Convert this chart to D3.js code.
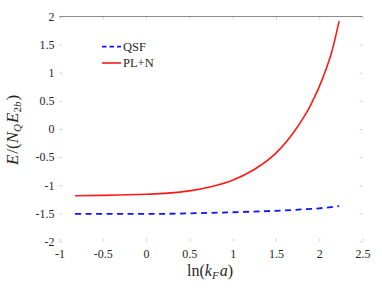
<!DOCTYPE html>
<html>
<head>
<meta charset="utf-8">
<script src="https://cdn.jsdelivr.net/npm/d3@7"></script>
<style>
  body { margin: 0; background: #fff; }
  text { font-family: "Liberation Serif", "Times New Roman", serif; fill: #262626; }
</style>
</head>
<body>
<script>
// values
const lnkFa = [-0.82, -0.5, 0, 0.25, 0.5, 0.75, 1.0, 1.25, 1.5, 1.75, 1.9, 2.05, 2.15, 2.23];
const plN   = [-1.186, -1.18, -1.16, -1.14, -1.10, -1.025, -0.91, -0.72, -0.43, 0.04, 0.42, 0.94, 1.40, 1.92];
const qsfX  = [-0.82, 0, 0.5, 1.0, 1.4, 1.8, 2.0, 2.23];
const qsf   = [-1.51, -1.51, -1.50, -1.48, -1.46, -1.43, -1.41, -1.37];
const xTicks = [-1, -0.5, 0, 0.5, 1, 1.5, 2, 2.5];
const yTicks = [-2, -1.5, -1, -0.5, 0, 0.5, 1, 1.5, 2];

const W = 382, H = 289;
const mLeft = 59.5, mRight = 362.5, mTop = 16.5, mBottom = 241.5;

const svg = d3.select("body").append("svg")
    .attr("width", W)
    .attr("height", H);

const x = d3.scaleLinear().domain([-1, 2.5]).range([mLeft, mRight]);
const y = d3.scaleLinear().domain([-2, 2]).range([mBottom, mTop]);

// axes, matlab style: ticks inside
const fmt = d => String(d);

const gx = svg.append("g").attr("transform", `translate(0,${mBottom})`)
    .call(d3.axisBottom(x).tickValues(xTicks).tickSize(-3).tickPadding(8).tickFormat(fmt));
const gy = svg.append("g").attr("transform", `translate(${mLeft},0)`)
    .call(d3.axisLeft(y).tickValues(yTicks).tickSize(-3).tickPadding(5).tickFormat(fmt));
const gxt = svg.append("g").attr("transform", `translate(0,${mTop})`)
    .call(d3.axisTop(x).tickValues(xTicks).tickSize(-3).tickFormat(""));
const gyr = svg.append("g").attr("transform", `translate(${mRight},0)`)
    .call(d3.axisRight(y).tickValues(yTicks).tickSize(-3).tickFormat(""));

[gx, gy, gxt, gyr].forEach(g => {
    g.attr("font-family", null);
    g.select(".domain").remove();
    g.selectAll(".tick line").attr("stroke", "#c8c8c8").attr("stroke-width", 0.8);
    g.selectAll("text")
        .style("font-family", "'Liberation Serif', serif")
        .attr("font-size", 12).attr("fill", "#262626");
});

// the top border is the only one that survives in the picture
svg.append("line")
    .attr("x1", mLeft).attr("x2", mRight)
    .attr("y1", mTop).attr("y2", mTop)
    .attr("stroke", "#8a8a8a").attr("stroke-width", 1);

const line = d3.line().x(d => x(d[0])).y(d => y(d[1])).curve(d3.curveMonotoneX);

svg.append("path")
    .datum(qsfX.map((v, i) => [v, qsf[i]]))
    .attr("d", line)
    .attr("fill", "none")
    .attr("stroke", "#1010ff")
    .attr("stroke-width", 1.8)
    .attr("stroke-dasharray", "6,4.5");

svg.append("path")
    .datum(lnkFa.map((v, i) => [v, plN[i]]))
    .attr("d", line)
    .attr("fill", "none")
    .attr("stroke", "#ff1a1a")
    .attr("stroke-width", 1.6);

// legend
const legend = svg.append("g");
legend.append("line").attr("x1", 102).attr("x2", 121).attr("y1", 46.7).attr("y2", 46.7)
    .attr("stroke", "#1010ff").attr("stroke-width", 1.8).attr("stroke-dasharray", "4.5,3");
legend.append("text").attr("x", 123).attr("y", 51).attr("font-size", 12.5).text("QSF");
legend.append("line").attr("x1", 102).attr("x2", 121).attr("y1", 63).attr("y2", 63)
    .attr("stroke", "#ff1a1a").attr("stroke-width", 1.6);
legend.append("text").attr("x", 123).attr("y", 67.3).attr("font-size", 12.5).text("PL+N");

// x label: ln(k_F a)
const xl = svg.append("text")
    .attr("x", 210).attr("y", 276)
    .attr("text-anchor", "middle")
    .attr("font-size", 16);
xl.append("tspan").text("ln(");
xl.append("tspan").attr("font-style", "italic").text("k");
xl.append("tspan").attr("font-style", "italic").attr("font-size", 11).attr("dy", 3).text("F");
xl.append("tspan").attr("font-style", "italic").attr("dy", -3).attr("dx", 1).text("a");
xl.append("tspan").text(")");

// y label: E/(N_Q E_2b)
const yl = svg.append("text")
    .attr("transform", "translate(18,130) rotate(-90)")
    .attr("text-anchor", "middle")
    .attr("font-size", 17);
yl.append("tspan").attr("font-style", "italic").text("E");
yl.append("tspan").attr("dx", 1).text("/(");
yl.append("tspan").attr("font-style", "italic").text("N");
yl.append("tspan").attr("font-style", "italic").attr("font-size", 11).attr("dy", 3).text("Q");
yl.append("tspan").attr("font-style", "italic").attr("dy", -3).attr("dx", 1).text("E");
yl.append("tspan").attr("font-size", 11).attr("dy", 3).text("2");
yl.append("tspan").attr("font-style", "italic").attr("font-size", 11).text("b");
yl.append("tspan").attr("dy", -3).attr("dx", 1).text(")");
</script>
</body>
</html>
